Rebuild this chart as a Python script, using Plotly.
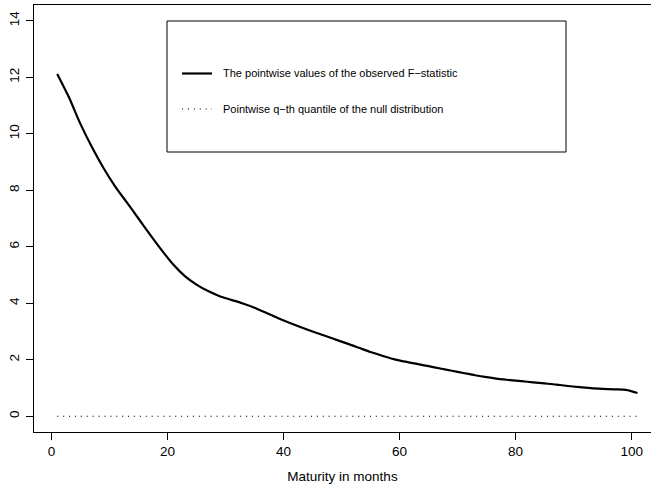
import plotly.graph_objects as go

# ---- data ----
maturity = [1, 3, 5, 7, 9, 11, 13, 15, 17, 19, 21, 23, 25, 27, 29, 31, 33, 35, 37, 39,
            41, 43, 45, 47, 49, 51, 53, 55, 57, 59, 61, 63, 65, 67, 69, 71, 73, 75, 77,
            79, 81, 83, 85, 87, 89, 91, 93, 95, 97, 99, 101]
f_stat = [12.12, 11.3, 10.35, 9.52, 8.78, 8.13, 7.57, 7.0, 6.43, 5.88, 5.37, 4.96, 4.66,
          4.43, 4.25, 4.12, 3.99, 3.84, 3.66, 3.48, 3.31, 3.15, 3.0, 2.86, 2.71, 2.57,
          2.42, 2.27, 2.14, 2.02, 1.93, 1.85, 1.77, 1.69, 1.61, 1.53, 1.45, 1.38, 1.32,
          1.28, 1.24, 1.2, 1.16, 1.12, 1.07, 1.03, 0.995, 0.97, 0.95, 0.93, 0.82]
q_maturity = list(range(1, 102))
q_quantile = [0.0] * len(q_maturity)

x_ticks = [0, 20, 40, 60, 80, 100]
y_ticks = [0, 2, 4, 6, 8, 10, 12, 14]
legend_labels = ["The pointwise values of the observed F\u2212statistic",
                 "Pointwise q\u2212th quantile of the null distribution"]

FONT = "Liberation Sans, Arial, Helvetica, sans-serif"
W, H = 651, 486
L, T, B = 34, 5, 54
PW, PH = W - L, H - T - B


def px(x):
    return (x - L) / PW


def py(y):
    return (H - B - y) / PH


fig = go.Figure()
fig.add_trace(go.Scatter(x=maturity, y=f_stat, mode="lines",
                         line=dict(color="black", width=2.2, shape="spline", smoothing=0.8),
                         showlegend=False))
fig.add_trace(go.Scatter(x=q_maturity, y=q_quantile, mode="lines",
                         line=dict(color="black", width=1.1, dash="1.1px,4.8px"),
                         showlegend=False))

shapes = [
    dict(type="rect", xref="paper", yref="paper", x0=px(167), x1=px(566), y0=py(152), y1=py(21),
         line=dict(color="black", width=1), fillcolor="white", layer="above"),
    dict(type="line", xref="paper", yref="paper", x0=px(182), x1=px(212), y0=py(73.5), y1=py(73.5),
         line=dict(color="black", width=2.2)),
    dict(type="line", xref="paper", yref="paper", x0=px(182), x1=px(212), y0=py(109), y1=py(109),
         line=dict(color="black", width=1.1, dash="1.1px,4.8px")),
]
annotations = [
    dict(xref="paper", yref="paper", x=px(221), y=py(y), text=t, showarrow=False,
         xanchor="left", yanchor="middle", font=dict(family=FONT, size=11, color="black"))
    for t, y in zip(legend_labels, [73.5, 109])
]

fig.update_layout(
    width=W, height=H,
    margin=dict(l=L, r=0, t=T, b=B),
    paper_bgcolor="white", plot_bgcolor="white",
    font=dict(family=FONT, size=13.5, color="black"),
    shapes=shapes, annotations=annotations,
    xaxis=dict(range=[-3, 103.33], tickvals=x_ticks, ticks="outside", ticklen=7,
               tickwidth=1, tickcolor="black", showline=True, linecolor="black",
               linewidth=1, mirror=True, showgrid=False, zeroline=False,
               title=dict(text="Maturity in months", font=dict(size=13.5), standoff=13),
               tickfont=dict(size=13.5)),
    yaxis=dict(range=[-0.56, 14.56], tickvals=y_ticks, ticks="outside", ticklen=7,
               tickwidth=1, tickcolor="black", showline=True, linecolor="black",
               linewidth=1, showgrid=False, zeroline=False, tickangle=-90,
               ticklabelstandoff=2, tickfont=dict(size=13.5)),
)

fig.write_html("out.html")
